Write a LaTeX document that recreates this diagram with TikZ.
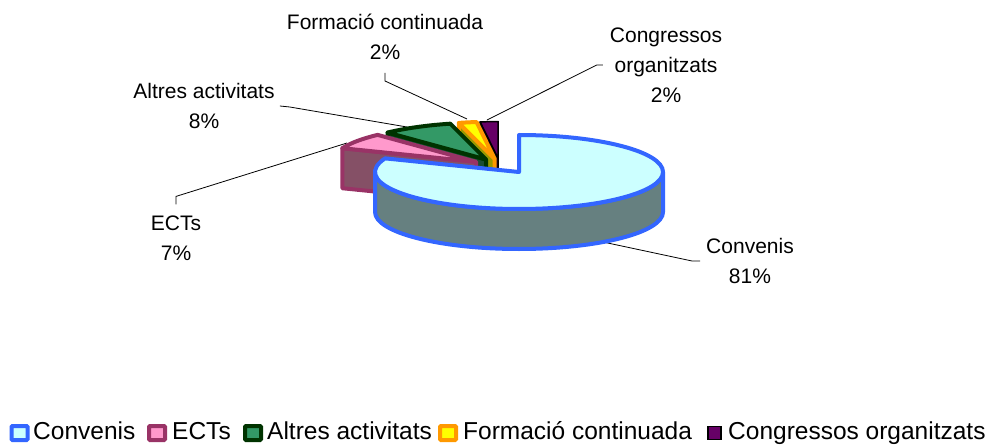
\documentclass[tikz,border=0pt]{standalone}
\usepackage{fontspec}
\setmainfont{Liberation Sans}
\usetikzlibrary{calc}

\definecolor{convLine}{HTML}{3366FF}
\definecolor{convTop}{HTML}{CCFFFF}
\definecolor{convSide}{HTML}{668080}
\definecolor{ectsLine}{HTML}{993366}
\definecolor{ectsTop}{HTML}{FF99CC}
\definecolor{ectsSide}{HTML}{855066}
\definecolor{altrLine}{HTML}{003300}
\definecolor{altrTop}{HTML}{339966}
\definecolor{altrSide}{HTML}{1A4D33}
\definecolor{formLine}{HTML}{FF9900}
\definecolor{formTop}{HTML}{FFFF00}
\definecolor{formSide}{HTML}{999900}
\definecolor{congTop}{HTML}{660066}
\definecolor{congSide}{HTML}{330033}

\begin{document}
\begin{tikzpicture}[x=1pt, y=1pt,
  lbl/.style={align=center, inner sep=0pt, font=\fontsize{21}{30}\selectfont},
  leg/.style={anchor=base west, inner sep=0pt, font=\fontsize{24.5}{29}\selectfont},
  legbox/.style={minimum width=16pt, minimum height=14pt, inner sep=0pt, line width=4pt, rounded corners=1pt},
  leader/.style={line width=0.8pt},
  slice/.style={line width=4pt, line join=round}]
\useasboundingbox (0,0) rectangle (992,445);
\def\rx{144}
\def\ry{37}
\def\dep{40}
\coordinate (origin) at (500,279);
\coordinate (convC) at (519,273);
% Explode the small slices along their bisectors
\coordinate (congC) at ($(origin)+({0.2*\rx*cos(93.6)},{0.2*\ry*sin(93.6)})$);
\coordinate (formC) at ($(origin)+({0.2*\rx*cos(100.8)},{0.2*\ry*sin(100.8)})$);
\coordinate (altrC) at ($(origin)+({0.2*\rx*cos(118.8)},{0.2*\ry*sin(118.8)})$);
\coordinate (ectsC) at ($(origin)+({0.2*\rx*cos(145.8)},{0.2*\ry*sin(145.8)})$);
% Points where the leader lines touch the slices
\coordinate (ptConv) at (603,203);
\coordinate (ptEcts) at (347,302);
\coordinate (ptAltr) at (407,318);
\coordinate (ptForm) at (467,326);
\coordinate (ptCong) at (487,325);
% Data labels
\node[lbl] (lblForm) at (385,408) {Formació continuada\\2\%};
\node[lbl] (lblCong) at (666,380) {Congressos\\organitzats\\2\%};
\node[lbl] (lblAltr) at (204,339) {Altres activitats\\8\%};
\node[lbl] (lblEcts) at (176,207) {ECTs\\7\%};
\node[lbl] (lblConv) at (750,184) {Convenis\\81\%};
% Leader lines
\draw[leader] ([yshift=-13pt]lblForm.south) -- ++(0,-8) -- (ptForm);
\draw[leader] ([xshift=-7pt]lblCong.west) -- ++(-6,0) -- (ptCong);
\draw[leader] ([xshift=5pt]lblAltr.east) -- ++(10,-1) -- (ptAltr);
\draw[leader] ([yshift=11pt]lblEcts.north) -- ++(0,8) -- (ptEcts);
\draw[leader] ([xshift=-6pt]lblConv.west) -- ++(-8,0) -- (ptConv);
% Congressos organitzats slice
\filldraw[fill=congSide, draw=black, line width=1.5pt, line join=round] (congC) -- ++({\rx*cos(97.2)},{\ry*sin(97.2)}) -- ++(0,-\dep) -- ($(congC)+(0,-\dep)$) -- cycle;
\filldraw[fill=congTop, draw=black, line width=1.5pt, line join=round] (congC) -- ++(0,\ry) arc[start angle=90, end angle=97.2, x radius=\rx, y radius=\ry] -- cycle;
% Formacio continuada slice
\filldraw[slice, fill=formSide, draw=formLine] (formC) -- ++({\rx*cos(104.4)},{\ry*sin(104.4)}) -- ++(0,-\dep) -- ($(formC)+(0,-\dep)$) -- cycle;
\filldraw[slice, fill=formTop, draw=formLine] (formC) -- ++({\rx*cos(97.2)},{\ry*sin(97.2)}) arc[start angle=97.2, end angle=104.4, x radius=\rx, y radius=\ry] -- cycle;
% Altres activitats slice
\filldraw[slice, fill=altrSide, draw=altrLine] (altrC) -- ++({\rx*cos(133.2)},{\ry*sin(133.2)}) -- ++(0,-\dep) -- ($(altrC)+(0,-\dep)$) -- cycle;
\filldraw[slice, fill=altrTop, draw=altrLine] (altrC) -- ++({\rx*cos(104.4)},{\ry*sin(104.4)}) arc[start angle=104.4, end angle=133.2, x radius=\rx, y radius=\ry] -- cycle;
% ECTs slice
\filldraw[slice, fill=ectsSide, draw=ectsLine] (ectsC) -- ++({\rx*cos(158.4)},{\ry*sin(158.4)}) -- ++(0,-\dep) -- ($(ectsC)+(0,-\dep)$) -- cycle;
\filldraw[slice, fill=ectsTop, draw=ectsLine] (ectsC) -- ++({\rx*cos(133.2)},{\ry*sin(133.2)}) arc[start angle=133.2, end angle=158.4, x radius=\rx, y radius=\ry] -- cycle;
% Convenis slice: front wall, then top
\filldraw[slice, fill=convSide, draw=convLine] ($(convC)+(-\rx,0)$) arc[start angle=180, end angle=360, x radius=\rx, y radius=\ry] -- ++(0,-\dep) arc[start angle=360, end angle=180, x radius=\rx, y radius=\ry] -- cycle;
\filldraw[slice, fill=convTop, draw=convLine] (convC) -- ++(0,\ry) arc[start angle=90, end angle=-201.6, x radius=\rx, y radius=\ry] -- cycle;
% Legend
\node[legbox, draw=convLine, fill=convTop] (keyConv) at (19.5,12) {};
\node[leg] (txtConv) at (33,5.5) {Convenis};
\node[legbox, draw=ectsLine, fill=ectsTop] (keyEcts) at (157,12) {};
\node[leg] (txtEcts) at (172,5.5) {ECTs};
\node[legbox, draw=altrLine, fill=altrTop] (keyAltr) at (253,12) {};
\node[leg] (txtAltr) at (267,5.5) {Altres activitats};
\node[legbox, draw=formLine, fill=formTop] (keyForm) at (448,12) {};
\node[leg] (txtForm) at (463,5.5) {Formació continuada};
\node[legbox, minimum width=13pt, minimum height=13pt, line width=1.5pt, rounded corners=0pt, draw=black, fill=congTop] (keyCong) at (714.5,12) {};
\node[leg] (txtCong) at (728,5.5) {Congressos organitzats};
\end{tikzpicture}
\end{document}
